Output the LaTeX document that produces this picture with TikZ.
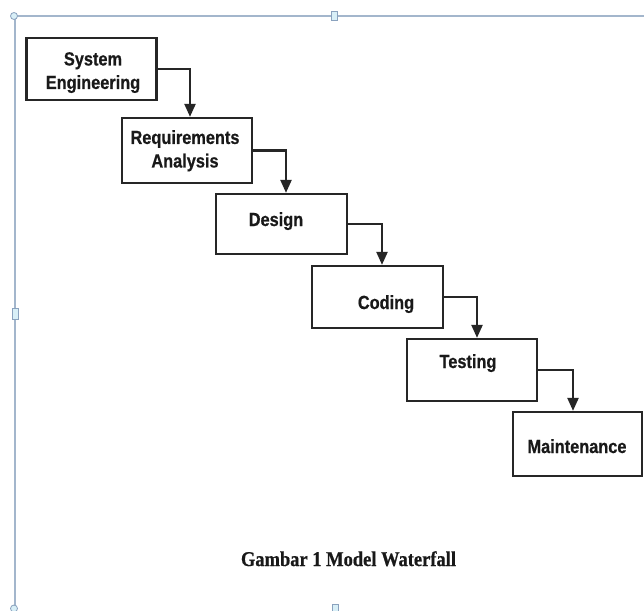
\documentclass[tikz,border=0pt]{standalone}
\usepackage{fontspec}
\setmainfont{Liberation Sans}
\newfontfamily\boxfont[FakeStretch=0.86,FakeBold=0.6]{Liberation Sans}
\newfontfamily\capfont[FakeStretch=0.88,FakeBold=0.6]{Liberation Serif}
\usetikzlibrary{arrows.meta}
\definecolor{framecol}{HTML}{A3B6CC}
\definecolor{handlefill}{HTML}{D8EFF7}
\definecolor{handledraw}{HTML}{8AA2BE}
\tikzset{
  stagebox/.style={draw=black!85, line width=2.3pt, minimum width=130pt, minimum height=62pt, inner sep=0pt},
  stagetext/.style={inner sep=0pt, align=center, font=\boxfont\bfseries\fontsize{19}{23.5}\selectfont, text=black!90},
  flow/.style={draw=black!85, line width=2.3pt, -{Triangle[length=13pt,width=11pt]}},
  framelinestyle/.style={draw=framecol, line width=1.6pt},
  handle/.style={draw=handledraw, fill=handlefill, line width=0.8pt},
  captext/.style={inner sep=0pt, font=\capfont\bfseries\fontsize{21}{24}\selectfont, text=black!90}
}
\begin{document}
\begin{tikzpicture}[x=1pt,y=-1pt]
\useasboundingbox (0,0) rectangle (644,610);
\fill[white] (0,0) rectangle (644,610);
% selection frame
\draw[framelinestyle] (14,16) -- (644,16);
\draw[framelinestyle] (15,16) -- (15,610);
\draw[handle] (14,16) circle (3.5);
\draw[handle] (331,11.5) rectangle (337,20.5);
\draw[handle] (12,308.5) rectangle (18,319.5);
\draw[handle] (14,608.5) circle (3.5);
\draw[handle] (332,604) rectangle (338,613);
% boxes
\node[stagebox] (b1) at (91.5,69) {};
\node[stagebox, minimum height=65pt] (b2) at (187,150.5) {};
\node[stagebox, minimum width=131pt, minimum height=60pt] (b3) at (281.5,224) {};
\node[stagebox, minimum width=131pt] (b4) at (377.5,297) {};
\node[stagebox] (b5) at (472,370) {};
\node[stagebox, minimum width=129pt, minimum height=64pt] (b6) at (577.5,444) {};
% labels
\node[stagetext, anchor=north] (t1) at (93,52) {System\\Engineering};
\node[stagetext, anchor=north] (t2) at (185,130) {Requirements\\Analysis};
\node[stagetext, anchor=base] (t3) at (276,226) {Design};
\node[stagetext, anchor=base] (t4) at (386,309) {Coding};
\node[stagetext, anchor=base] (t5) at (468,368) {Testing};
\node[stagetext, anchor=base] (t6) at (577,453) {Maintenance};
% connectors
\draw[flow] (b1.east) -| ([xshift=3pt]b2.north);
\draw[flow] (b2.east) -| ([xshift=4.5pt]b3.north);
\draw[flow] (b3.east) -| ([xshift=4.5pt]b4.north);
\draw[flow] (b4.east) -| ([xshift=5pt]b5.north);
\draw[flow] (b5.east) -| ([xshift=-4.5pt]b6.north);
% caption
\node[captext, anchor=base] (cap) at (348.5,566) {Gambar 1 Model Waterfall};
\end{tikzpicture}
\end{document}
